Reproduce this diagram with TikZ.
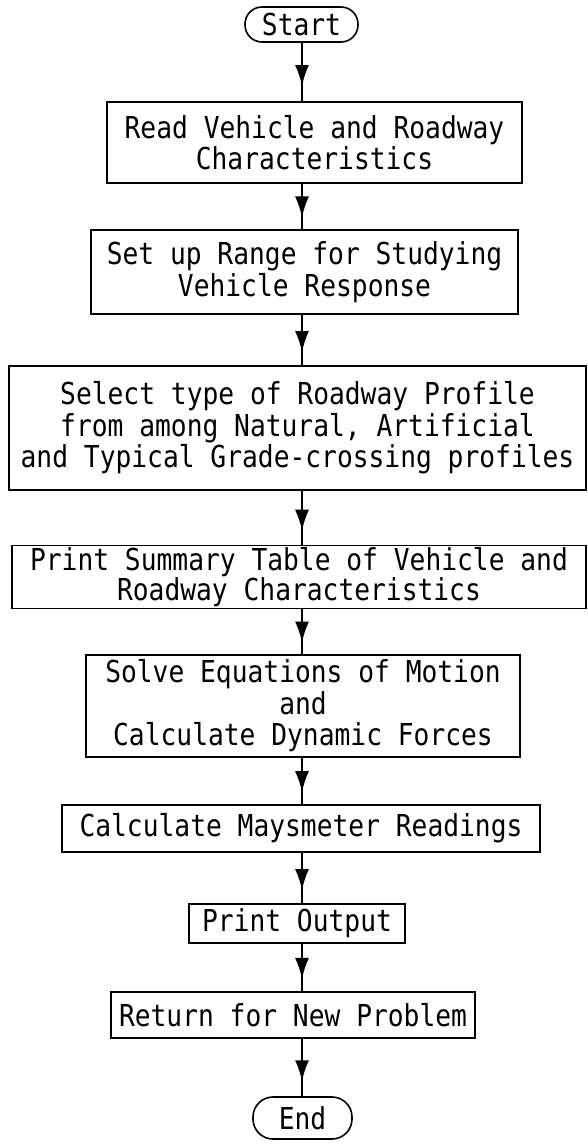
\documentclass[tikz,border=0pt]{standalone}
\usepackage{fontspec}
\newfontfamily\twfont[FakeStretch=0.87]{DejaVu Sans Mono}
\usetikzlibrary{arrows.meta,decorations.markings}
\tikzset{
  stepbox/.style={draw, line width=1.6pt, inner sep=0pt, align=center,
    font=\twfont\fontsize{30.2}{31.5}\selectfont},
  tightbox/.style={stepbox, font=\twfont\fontsize{30.2}{26.5}\selectfont},
  termbox/.style={stepbox, rounded corners=17pt},
  conn/.style={line width=1.9pt, postaction={decorate},
    decoration={markings, mark=at position 0.74 with {\arrow{Latex[length=21pt,width=14pt]}}}}
}
\begin{document}
\begin{tikzpicture}[x=1pt,y=-1pt]
\useasboundingbox (0,0) rectangle (587,1145);
\coordinate (ax) at (302,0);
\node[termbox, minimum width=113pt, minimum height=35pt] (start) at (301.5,24.5) {Start};
\node[stepbox, minimum width=415pt, minimum height=81pt] (b1) at (314.5,142.5) {Read Vehicle and Roadway\\Characteristics};
\node[stepbox, minimum width=427pt, minimum height=84pt] (b2) at (304.5,272) {Set up Range for Studying\\Vehicle Response};
\node[stepbox, minimum width=577pt, minimum height=124pt] (b3) at (297.5,428) {Select type of Roadway Profile\\from among Natural, Artificial\\and Typical Grade-crossing profiles};
\node[tightbox, minimum width=574pt, minimum height=63pt] (b4) at (299,577) {Print Summary Table of Vehicle and\\Roadway Characteristics\rule[-3pt]{0pt}{0pt}};
\node[stepbox, minimum width=434pt, minimum height=102pt] (b5) at (303,706) {Solve Equations of Motion\\and\\Calculate Dynamic Forces};
\node[stepbox, minimum width=478pt, minimum height=47pt] (b6) at (301,828.5) {Calculate Maysmeter Readings};
\node[stepbox, minimum width=216pt, minimum height=39pt] (b7) at (297,923.5) {Print Output};
\node[stepbox, minimum width=364pt, minimum height=46pt] (b8) at (293,1015) {Return for New Problem};
\node[termbox, minimum width=99pt, minimum height=42pt, rounded corners=20pt] (end) at (302.5,1118) {End};
\draw[conn] (ax |- start.south) -- (ax |- b1.north);
\draw[conn] (ax |- b1.south) -- (ax |- b2.north);
\draw[conn] (ax |- b2.south) -- (ax |- b3.north);
\draw[conn] (ax |- b3.south) -- (ax |- b4.north);
\draw[conn] (ax |- b4.south) -- (ax |- b5.north);
\draw[conn] (ax |- b5.south) -- (ax |- b6.north);
\draw[conn] (ax |- b6.south) -- (ax |- b7.north);
\draw[conn] (ax |- b7.south) -- (ax |- b8.north);
\draw[conn] (ax |- b8.south) -- (ax |- end.north);
\end{tikzpicture}
\end{document}
